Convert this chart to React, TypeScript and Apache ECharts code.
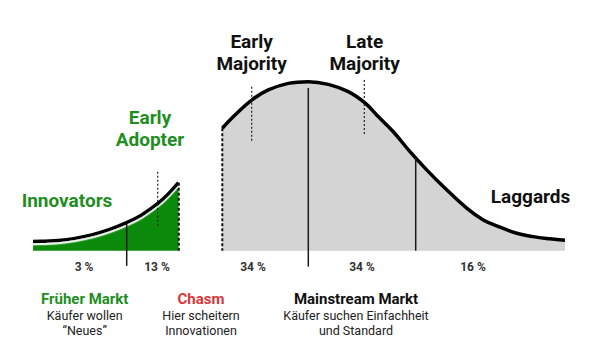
import React, { useEffect, useRef } from "react";
import * as echarts from "echarts";

// Early market curve (position along adoption axis, density as % of peak)
const earlyX = [33, 45, 58.3, 75, 91.7, 108.3, 126.7, 141.7, 158.3, 168.3, 178.5];
const earlyY = [5.36, 5.6, 5.96, 7.26, 9.33, 12.3, 16.6, 21.2, 28.1, 33.6, 40.3];

// Mainstream market curve
const mainX = [222.3, 235, 251.7, 268.3, 288.3, 308.3, 328.3, 348.3, 365, 376.7, 393.3, 410, 426.7, 443.3, 466.7, 483.3, 500, 516.7, 533.3, 550, 565];
const mainY = [72.6, 80.4, 89.3, 95.3, 99.2, 100.2, 98.6, 94.3, 87.6, 80.4, 70.5, 58.7, 47.9, 38.0, 25.2, 18.2, 13.9, 10.3, 8.3, 7.0, 6.1];

// Segment boundaries: [position, top, bottom]
const solidDividers = [
  [126.7, 16.6, -9.0],
  [308.3, 96.4, -9.5],
  [415.7, 55.1, 0],
];
const thinDotted = [
  [157.7, 46.8, 13.5],
  [251.7, 97.2, 64.6],
  [364.3, 101.2, 68.6],
];
const edgeDotted = [
  [178.8, 40.3, 0],
  [222.3, 72.6, 0],
];

const shareLabels = ["3 %", "13 %", "34 %", "34 %", "16 %"];
const sharePos = [84, 157, 253, 362, 473];

const groupTitles = ["Innovators", "Early\nAdopter", "Early\nMajority", "Late\nMajority", "Laggards"];

const marketTitles = ["Früher Markt", "Chasm", "Mainstream Markt"];
const marketTexts = ["Käufer wollen\n“Neues”", "Hier scheitern\nInnovationen", "Käufer suchen Einfachheit\nund Standard"];

const GREEN_TEXT = "#1f8e1f";
const GREEN_FILL = "#0c8a0c";
const RED = "#d7373a";
const FONT = "Roboto, 'Noto Sans', sans-serif";

export default function App() {
  const ref = useRef<HTMLDivElement>(null);
  useEffect(() => {
    if (!ref.current) return;
    const chart = echarts.init(ref.current, null, { renderer: "svg" });

    const segSeries = (arr: number[][], style: any) =>
      arr.map((d) => ({
        type: "line",
        data: [[d[0], d[1]], [d[0], d[2]]],
        symbol: "none",
        clip: false,
        silent: true,
        lineStyle: style,
        z: 3,
      }));

    const texts: any[] = [];
    const addLines = (lines: string[], cx: number, y0: number, gap: number, font: string, fill: string) => {
      lines.forEach((t, i) =>
        texts.push({
          type: "text",
          x: cx,
          y: y0 + i * gap,
          style: { text: t, font, fill, align: "center", verticalAlign: "middle" },
          z: 10,
        })
      );
    };
    const titleFont = `bold 19px ${FONT}`;
    addLines(groupTitles[0].split("\n"), 67, 200.3, 21.6, titleFont, GREEN_TEXT);
    addLines(groupTitles[1].split("\n"), 150, 117.9, 21.6, titleFont, GREEN_TEXT);
    addLines(groupTitles[2].split("\n"), 251.6, 41.7, 21.6, titleFont, "#111");
    addLines(groupTitles[3].split("\n"), 364.6, 41.7, 21.6, titleFont, "#111");
    addLines(groupTitles[4].split("\n"), 530.5, 196.7, 21.6, titleFont, "#111");

    shareLabels.forEach((t, i) => addLines([t], sharePos[i], 267.3, 0, `bold 12px ${FONT}`, "#333"));

    const mCx = [84.7, 201, 356];
    const mColors = [GREEN_TEXT, RED, "#111"];
    marketTitles.forEach((t, i) => {
      addLines([t], mCx[i], 299.2, 0, `bold 15px ${FONT}`, mColors[i]);
      addLines(marketTexts[i].split("\n"), mCx[i], 315, 15.5, `12.5px ${FONT}`, "#222");
    });

    chart.setOption({
      animation: false,
      grid: { left: 0, right: 0, top: 71.875, bottom: 88.125 },
      xAxis: { type: "value", min: 0, max: 600, show: false },
      yAxis: { type: "value", min: -12, max: 106, show: false },
      series: [
        {
          type: "line",
          data: earlyX.map((x, i) => [x, earlyY[i]]),
          smooth: 0.4,
          symbol: "none",
          lineStyle: { color: "#000", width: 3.5, shadowColor: "rgba(255,255,255,0.9)", shadowBlur: 0.5, shadowOffsetY: 2.2 },
          areaStyle: { color: GREEN_FILL, opacity: 1, origin: 0 },
          z: 2,
        },
        {
          type: "line",
          data: mainX.map((x, i) => [x, mainY[i]]),
          smooth: 0.4,
          symbol: "none",
          lineStyle: { color: "#000", width: 3.5 },
          areaStyle: { color: "#d4d4d4", opacity: 1, origin: 0 },
          z: 2,
        },
        ...segSeries(solidDividers, { color: "#1a1a1a", width: 1.5 }),
        ...segSeries(thinDotted, { color: "#222", width: 1.2, type: [2, 2] }),
        ...segSeries(edgeDotted, { color: "#111", width: 2, type: [3, 2] }),
      ],
      graphic: texts,
    });
    return () => chart.dispose();
  }, []);
  return <div ref={ref} style={{ position: "fixed", left: 0, top: 0, width: 600, height: 359, background: "#fff" }} />;
}
